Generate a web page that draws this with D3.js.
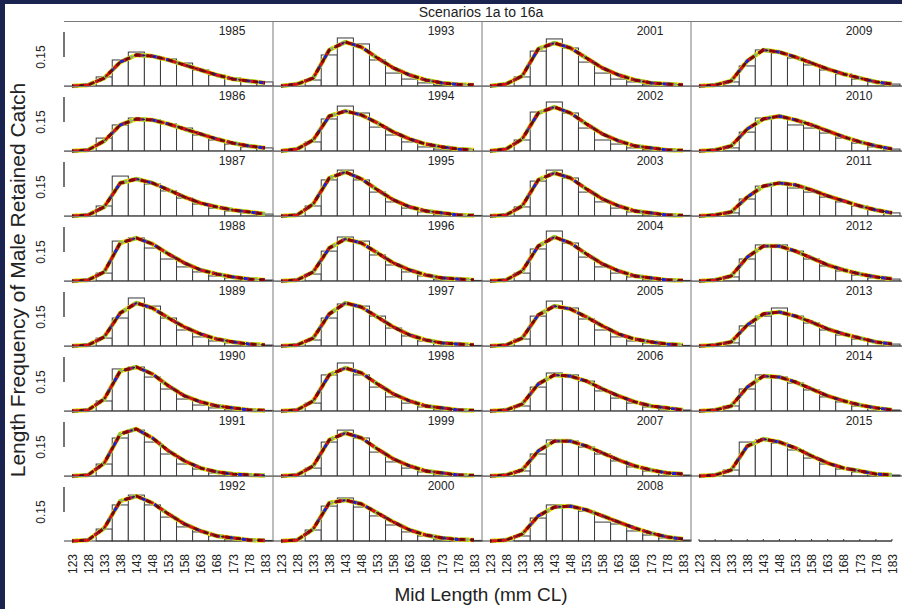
<!DOCTYPE html>
<html>
<head>
<meta charset="utf-8">
<script src="https://cdn.jsdelivr.net/npm/d3@7"></script>
<style>
body { margin: 0; background: #fff; }
text { font-family: "Liberation Sans", Arial, sans-serif; fill: #222; }
</style>
</head>
<body>
<svg id="chart" width="902" height="609"></svg>
<script>
// mid length bins (mm CL)
var midLengths = [123, 128, 133, 138, 143, 148, 153, 158, 163, 168, 173, 178, 183];

var years = [1985, 1986, 1987, 1988, 1989, 1990, 1991, 1992,
             1993, 1994, 1995, 1996, 1997, 1998, 1999, 2000,
             2001, 2002, 2003, 2004, 2005, 2006, 2007, 2008,
             2009, 2010, 2011, 2012, 2013, 2014, 2015];

// observed length frequency (bars), one row per year
var observed = [
  [0, 0, .047, .135, .176, .150, .140, .119, .083, .057, .041, .026, .021],
  [0, 0, .067, .135, .171, .161, .140, .119, .083, .057, .036, .021, .016],
  [0, 0, .052, .207, .187, .166, .130, .093, .062, .041, .026, .016, .010],
  [0, 0, .041, .207, .223, .171, .114, .073, .047, .026, .016, .010, .005],
  [0, 0, .041, .145, .249, .207, .145, .083, .047, .026, .016, .005, .005],
  [0, 0, .052, .218, .228, .176, .114, .062, .031, .016, .010, .005, .003],
  [0, 0, .062, .197, .238, .176, .114, .062, .036, .016, .010, .005, 0],
  [0, 0, .062, .187, .238, .187, .124, .073, .047, .026, .010, .005, .003],
  [0, 0, .031, .161, .249, .218, .135, .067, .036, .016, .005, .003, 0],
  [0, 0, .047, .166, .233, .197, .124, .083, .047, .021, .010, .005, 0],
  [0, 0, .052, .187, .238, .187, .124, .073, .041, .021, .010, .005, .003],
  [0, 0, .036, .155, .228, .207, .135, .083, .047, .026, .010, .005, .003],
  [0, 0, .031, .145, .218, .207, .155, .093, .052, .026, .016, .005, .003],
  [0, 0, .041, .187, .249, .187, .124, .073, .041, .021, .010, .005, .003],
  [0, 0, .041, .176, .238, .197, .124, .073, .041, .021, .010, .005, .003],
  [0, 0, .057, .181, .223, .176, .130, .083, .047, .026, .010, .005, .003],
  [0, 0, .047, .181, .244, .197, .124, .067, .036, .021, .010, .005, 0],
  [0, 0, .057, .202, .254, .197, .119, .057, .036, .016, .008, .003, .003],
  [0, 0, .047, .181, .238, .197, .124, .073, .041, .021, .010, .005, .003],
  [0, 0, .041, .166, .259, .197, .124, .073, .041, .021, .010, .005, .003],
  [0, 0, .036, .155, .233, .197, .140, .083, .047, .026, .016, .005, .003],
  [0, 0, .026, .124, .197, .187, .155, .104, .067, .041, .021, .010, .005],
  [0, 0, .026, .114, .187, .181, .150, .114, .078, .047, .026, .016, .005],
  [0, 0, .026, .119, .187, .176, .155, .098, .088, .052, .031, .016, .005],
  [0, 0, .021, .104, .187, .171, .145, .109, .083, .062, .036, .021, .010],
  [0, 0, .016, .098, .171, .171, .135, .119, .093, .067, .041, .021, .010],
  [0, 0, .016, .088, .155, .166, .145, .124, .098, .073, .052, .031, .016],
  [0, 0, .021, .114, .187, .187, .155, .114, .078, .052, .031, .016, .010],
  [0, 0, .016, .104, .155, .197, .155, .119, .083, .057, .036, .021, .010],
  [0, 0, .026, .114, .187, .176, .145, .109, .073, .047, .026, .016, .005],
  [0, 0, .031, .176, .187, .171, .135, .093, .062, .036, .021, .010, .005]
];

// model fit (lines), one row per year
var predicted = [
  [0, .005, .041, .124, .161, .155, .135, .109, .083, .057, .036, .026, .016],
  [0, .005, .052, .135, .166, .161, .140, .114, .088, .062, .041, .026, .016],
  [0, .005, .047, .171, .192, .171, .135, .098, .067, .047, .031, .021, .010],
  [0, .005, .047, .197, .223, .192, .140, .093, .057, .036, .021, .010, .005],
  [0, .005, .047, .171, .223, .197, .145, .098, .062, .036, .021, .010, .005],
  [0, .005, .062, .207, .228, .192, .130, .078, .047, .026, .016, .005, .003],
  [0, .005, .067, .218, .244, .197, .130, .078, .041, .021, .010, .005, .003],
  [0, .005, .067, .207, .233, .197, .140, .088, .052, .026, .016, .005, .003],
  [0, .010, .041, .187, .228, .202, .145, .093, .057, .031, .016, .008, .005],
  [0, .010, .057, .181, .207, .187, .145, .098, .062, .036, .021, .010, .005],
  [0, .005, .062, .197, .228, .192, .135, .083, .047, .026, .016, .005, .003],
  [0, .005, .047, .171, .218, .197, .145, .093, .057, .031, .016, .010, .005],
  [0, .005, .041, .166, .223, .202, .150, .098, .057, .031, .016, .010, .005],
  [0, .005, .052, .187, .223, .197, .140, .088, .052, .026, .016, .005, .003],
  [0, .005, .052, .187, .223, .197, .140, .088, .052, .026, .016, .005, .003],
  [0, .005, .062, .197, .212, .192, .145, .098, .057, .031, .016, .008, .005],
  [0, .010, .052, .192, .223, .197, .145, .093, .057, .031, .016, .010, .005],
  [0, .010, .062, .197, .228, .197, .140, .088, .052, .026, .016, .005, .003],
  [0, .005, .052, .187, .223, .197, .140, .088, .052, .026, .016, .005, .003],
  [0, .005, .052, .181, .228, .197, .140, .088, .052, .026, .016, .005, .003],
  [0, .005, .041, .161, .207, .192, .150, .104, .062, .036, .021, .010, .005],
  [0, .005, .036, .140, .187, .181, .155, .114, .078, .047, .026, .016, .005],
  [0, .005, .031, .130, .181, .181, .155, .119, .083, .052, .031, .016, .010],
  [0, .005, .036, .130, .176, .181, .161, .130, .098, .067, .041, .021, .010],
  [0, .005, .026, .130, .187, .176, .150, .119, .088, .062, .041, .021, .010],
  [0, .005, .026, .114, .166, .181, .161, .135, .104, .073, .047, .026, .010],
  [0, .005, .021, .098, .155, .171, .161, .135, .104, .078, .052, .031, .016],
  [0, .005, .026, .124, .181, .181, .155, .119, .083, .057, .036, .021, .010],
  [0, .005, .021, .109, .166, .176, .155, .124, .088, .062, .041, .021, .010],
  [0, .005, .026, .124, .181, .176, .150, .114, .078, .052, .031, .016, .005],
  [0, .005, .031, .155, .192, .176, .145, .104, .067, .041, .026, .010, .005]
];

// scenario line colours, drawn bottom to top
var scenarioColors = ["#f2e600", "#8cc63f", "#9a9a9a", "#2020d0", "#7a1fa0", "#e01010", "#8b0000", "#222222"];
var scenarioWidths = [4.5, 4, 1, 3.2, 2.6, 2.8, 2.8, 1];
var scenarioDash   = [null, "9,7", null, "6,10", "4,12", "7,5", "5,6", "3,6"];
var scenarioOffset = [0, 3, 0, 8, 2, 0, 4, 1];

var yTicks = [0.15];

var navy = "#1b2350",
    frameCol = "#7a7a7a";

var margin = {top: 21, left: 64},
    panelW = 209,
    panelH = 65,
    nRows = 8,
    nCols = 4;

var svg = d3.select("#chart");

svg.append("rect").attr("width", 902).attr("height", 609).attr("fill", "#fff");
svg.append("rect").attr("width", 902).attr("height", 4).attr("fill", navy);
svg.append("rect").attr("width", 5).attr("height", 609).attr("fill", navy);

var x = d3.scaleLinear()
    .domain([midLengths[0] - 2.5, midLengths[midLengths.length - 1] + 2.5])
    .range([0, panelW]);

var y = d3.scaleLinear()
    .domain([0, 0.337])
    .range([panelH, 0]);

var binW = x(midLengths[1]) - x(midLengths[0]);

var line = d3.line()
    .x(function(d) { return x(d[0]); })
    .y(function(d) { return y(d[1]); });

years.forEach(function(yr, i) {
    var col = Math.floor(i / nRows),
        row = i % nRows;
    var extra = col == nCols - 1 ? 4 : 0;   // last column runs off the edge

    var g = svg.append("g")
        .attr("transform", "translate(" + (margin.left + col * panelW) + "," + (margin.top + row * panelH) + ")");

    // bars
    g.append("g").selectAll("rect")
        .data(observed[i])
        .enter().append("rect")
        .attr("x", function(d, j) { return x(midLengths[j] - 2.5); })
        .attr("y", function(d) { return y(d); })
        .attr("width", binW)
        .attr("height", function(d) { return y(0) - y(d); })
        .attr("fill", "#fff")
        .attr("stroke", "#3a3a3a")
        .attr("stroke-width", 1);

    // baseline + frame
    g.append("line").attr("x1", 0).attr("x2", panelW + extra)
        .attr("y1", y(0)).attr("y2", y(0))
        .attr("stroke", "#3a3a3a");
    g.append("line").attr("x1", 0).attr("x2", panelW + extra)
        .attr("y1", 0.5).attr("y2", 0.5)
        .attr("stroke", frameCol);
    if (col < nCols - 1) {
        g.append("line").attr("x1", panelW).attr("x2", panelW)
            .attr("y1", 0).attr("y2", panelH)
            .attr("stroke", frameCol);
    }

    // scenario fits
    var pts = midLengths.map(function(m, j) { return [m, predicted[i][j]]; });
    scenarioColors.forEach(function(c, k) {
        g.append("path")
            .datum(pts)
            .attr("d", line)
            .attr("fill", "none")
            .attr("stroke", c)
            .attr("stroke-width", scenarioWidths[k])
            .attr("stroke-linejoin", "round")
            .attr("stroke-dasharray", scenarioDash[k])
            .attr("stroke-dashoffset", scenarioOffset[k]);
    });

    g.append("text")
        .attr("x", 168)
        .attr("y", 14)
        .attr("text-anchor", "middle")
        .attr("font-size", 12)
        .text(yr);

    // y axis on first column only
    if (col == 0) {
        g.append("line")
            .attr("x1", 0).attr("x2", 0)
            .attr("y1", y(yTicks[0])).attr("y2", y(0.28))
            .attr("stroke", "#666")
            .attr("stroke-width", 1.8);
        g.selectAll(".ytick")
            .data(yTicks)
            .enter().append("text")
            .attr("class", "ytick")
            .attr("transform", function(d) { return "translate(-23," + y(d) + ") rotate(-90)"; })
            .attr("dy", "0.35em")
            .attr("text-anchor", "middle")
            .attr("font-size", 12)
            .text(function(d) { return d3.format(".2f")(d); });
    }
});

// empty last panel: x axis line only
var gEmpty = svg.append("g")
    .attr("transform", "translate(" + (margin.left + (nCols - 1) * panelW) + "," + (margin.top + (nRows - 1) * panelH) + ")");
gEmpty.append("line")
    .attr("x1", x(midLengths[0])).attr("x2", x(midLengths[midLengths.length - 1]))
    .attr("y1", y(0)).attr("y2", y(0))
    .attr("stroke", "#3a3a3a").attr("stroke-width", 1.5);
gEmpty.selectAll(".tk")
    .data(midLengths)
    .enter().append("line")
    .attr("class", "tk")
    .attr("x1", function(d) { return x(d); }).attr("x2", function(d) { return x(d); })
    .attr("y1", y(0)).attr("y2", y(0) - 2)
    .attr("stroke", "#3a3a3a");

// x tick labels under every column
for (var c = 0; c < nCols; c++) {
    svg.append("g")
        .attr("transform", "translate(" + (margin.left + c * panelW) + "," + (margin.top + nRows * panelH) + ")")
        .call(d3.axisBottom(x).tickValues(midLengths).tickSize(0))
        .call(function(g) { g.select(".domain").remove(); })
        .selectAll("text")
        .attr("transform", "rotate(-90)")
        .attr("text-anchor", "end")
        .attr("x", -13)
        .attr("y", 0)
        .attr("dy", "0.35em")
        .attr("font-size", 12)
        .attr("font-family", "Liberation Sans, Arial, sans-serif")
        .attr("fill", "#222");
}

svg.append("text")
    .attr("x", 481)
    .attr("y", 17)
    .attr("text-anchor", "middle")
    .attr("font-size", 14)
    .text("Scenarios 1a to 16a");

svg.append("text")
    .attr("x", 481)
    .attr("y", 601)
    .attr("text-anchor", "middle")
    .attr("font-size", 19)
    .text("Mid Length (mm CL)");

svg.append("text")
    .attr("transform", "translate(18,280) rotate(-90)")
    .attr("dy", "0.35em")
    .attr("text-anchor", "middle")
    .attr("font-size", 21)
    .text("Length Frequency of Male Retained Catch");
</script>
</body>
</html>
